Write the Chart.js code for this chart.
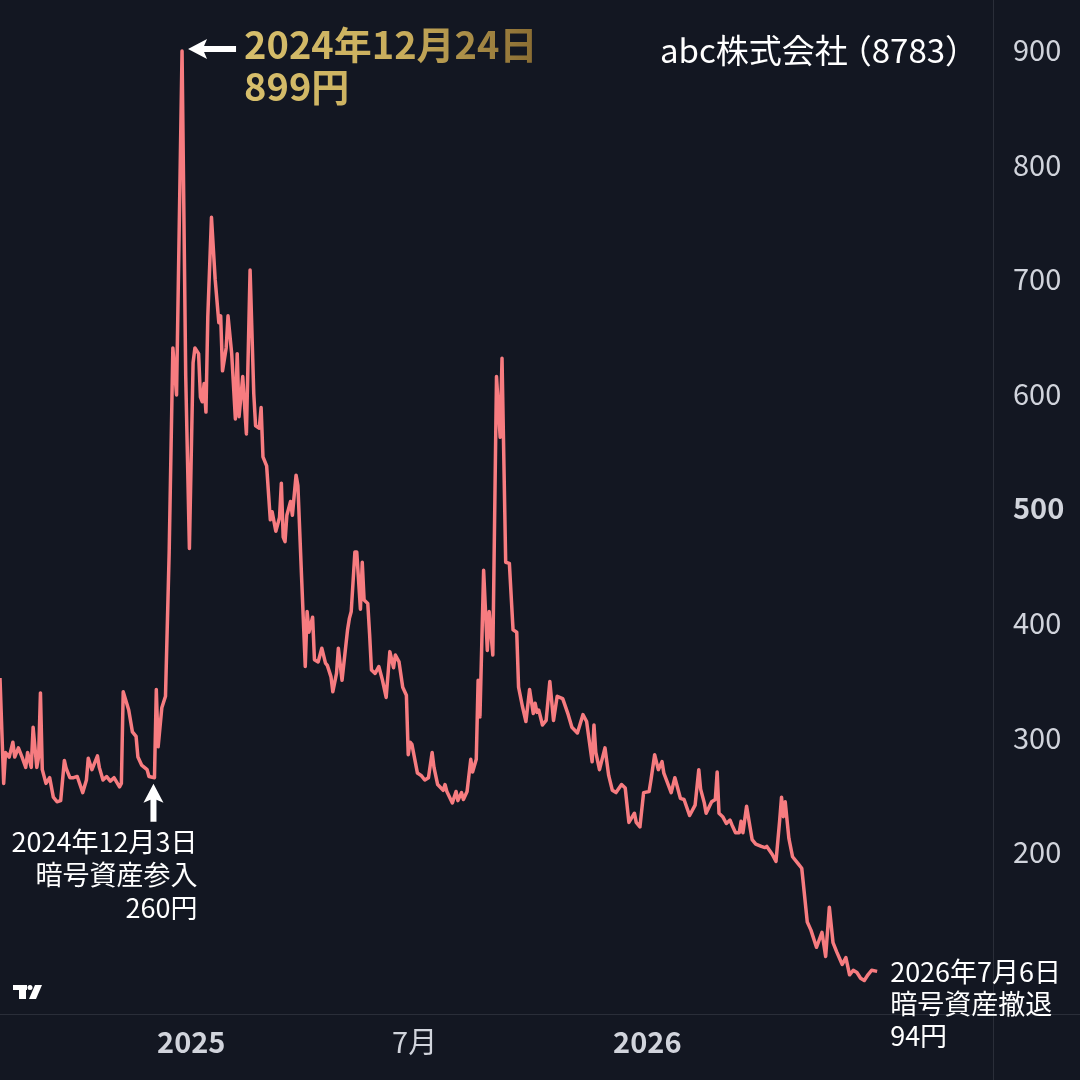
<!DOCTYPE html>
<html>
<head>
<meta charset="utf-8">
<script src="https://cdn.jsdelivr.net/npm/chart.js@4"></script>
<style>
  html, body { margin: 0; padding: 0; background: #131722; }
  #wrap { width: 1080px; height: 1080px; }
</style>
</head>
<body>
<div id="wrap"><canvas id="chart" width="1080" height="1080"></canvas></div>
<script>
// trading-day index (0 = left edge of the view) and closing price in yen
const bars = [
  0, 2, 3, 5, 7, 8, 10, 12, 14, 15,
  17, 18, 20, 21, 22, 23, 25, 27, 29, 31,
  33, 35, 36, 38, 40, 42, 45, 47, 48, 50,
  53, 54, 56, 58, 60, 62, 65, 66, 67, 70,
  72, 74, 75, 77, 80, 81, 84, 85, 86, 88,
  90, 92, 94, 96, 99, 101, 103, 105, 106, 108,
  109, 110, 111, 112, 113, 115, 117, 119, 120, 121,
  123, 124, 126, 128, 129, 130, 132, 134, 136, 138,
  139, 141, 142, 143, 145, 147, 148, 150, 152, 153,
  154, 155, 156, 158, 159, 161, 162, 164, 166, 167,
  168, 170, 171, 173, 175, 177, 178, 180, 181, 183,
  184, 186, 189, 190, 191, 193, 194, 196, 197, 198,
  200, 201, 202, 204, 206, 208, 210, 212, 214, 215,
  217, 219, 221, 222, 223, 224, 227, 229, 231, 233,
  235, 236, 238, 241, 242, 243, 246, 248, 249, 251,
  252, 254, 256, 257, 259, 260, 261, 263, 265, 266,
  268, 270, 272, 273, 275, 277, 279, 281, 282, 284,
  286, 288, 290, 291, 292, 293, 295, 297, 299, 301,
  303, 306, 309, 311, 314, 317, 319, 322, 323, 324,
  326, 329, 331, 333, 335, 338, 340, 342, 345, 346,
  348, 350, 353, 354, 356, 358, 360, 361, 365, 367,
  370, 372, 375, 378, 380, 381, 383, 384, 387, 389,
  390, 391, 393, 395, 397, 398, 400, 402, 403, 404,
  406, 409, 411, 414, 416, 417, 420, 422, 424, 425,
  426, 427, 429, 431, 434, 436, 439, 441, 444, 447,
  449, 451, 453, 455, 458, 460, 462, 464, 466, 468,
  470, 472, 474, 477
];
const prices = [
  352, 260, 287, 283, 296, 283, 291, 283, 274, 287,
  274, 309, 274, 283, 339, 272, 260, 265, 248, 244,
  245, 280, 273, 265, 265, 266, 252, 263, 282, 272,
  284, 274, 263, 266, 262, 265, 257, 260, 340, 324,
  305, 301, 283, 276, 272, 266, 265, 342, 292, 326,
  336, 462, 640, 599, 899, 615, 465, 627, 640, 635,
  597, 593, 609, 584, 667, 754, 700, 662, 668, 620,
  640, 668, 635, 578, 635, 580, 615, 565, 708, 600,
  572, 570, 588, 545, 537, 490, 497, 480, 492, 522,
  475, 471, 494, 506, 494, 529, 520, 440, 362, 410,
  392, 405, 368, 366, 378, 365, 363, 353, 340, 356,
  378, 350, 394, 404, 410, 462, 462, 412, 453, 420,
  417, 390, 359, 356, 362, 350, 335, 375, 361, 372,
  366, 344, 337, 285, 296, 294, 269, 267, 263, 265,
  287, 274, 259, 254, 259, 253, 243, 253, 245, 252,
  246, 253, 281, 270, 281, 350, 318, 446, 376, 410,
  372, 615, 562, 631, 453, 452, 394, 392, 344, 328,
  314, 342, 321, 330, 322, 324, 311, 315, 349, 315,
  336, 334, 320, 309, 304, 320, 314, 279, 311, 287,
  272, 291, 267, 254, 252, 259, 256, 226, 234, 226,
  222, 252, 253, 263, 285, 272, 279, 269, 252, 265,
  247, 246, 232, 241, 272, 255, 243, 234, 244, 246,
  270, 234, 231, 225, 228, 224, 217, 217, 227, 217,
  240, 211, 207, 205, 204, 205, 198, 192, 228, 248,
  231, 244, 212, 196, 190, 186, 139, 132, 117, 130,
  109, 152, 121, 113, 102, 108, 93, 97, 95, 90,
  88, 93, 97, 96
];

const xTickBars = [104, 225.5, 352];
const xTickLabels = ['2025', '7月', '2026'];
const xTickBold = [true, false, true];
const yTicks = [200, 300, 400, 500, 600, 700, 800, 900];

const titleName = 'abc株式会社';
const titleCode = '（8783）';
const peakBar = 99, peakPrice = 899;
const peakLines = ['2024年12月24日', '899円'];
const entryBar = 84, entryPrice = 265;
const entryLines = ['2024年12月3日', '暗号資産参入', '260円'];
const exitBar = 477, exitPrice = 96;
const exitLines = ['2026年7月6日', '暗号資産撤退', '94円'];

const BG = '#131722';
const LINE = '#f77c80';
const AXIS_TXT = '#d1d4dc';
const FONT = '"Noto Sans CJK JP", "Noto Sans", sans-serif';

function arrow(ctx, tx, ty, dir, len) {
  // dir: 'left' or 'up'; tip at (tx, ty)
  const head = 19, half = 10, shaft = 6;
  ctx.save();
  ctx.fillStyle = '#ffffff';
  ctx.beginPath();
  if (dir === 'left') {
    ctx.moveTo(tx, ty);
    ctx.lineTo(tx + head, ty - half);
    ctx.lineTo(tx + head - 3, ty - shaft / 2);
    ctx.lineTo(tx + len, ty - shaft / 2);
    ctx.lineTo(tx + len, ty + shaft / 2);
    ctx.lineTo(tx + head - 3, ty + shaft / 2);
    ctx.lineTo(tx + head, ty + half);
  } else {
    ctx.moveTo(tx, ty);
    ctx.lineTo(tx + half, ty + head);
    ctx.lineTo(tx + shaft / 2, ty + head - 3);
    ctx.lineTo(tx + shaft / 2, ty + len);
    ctx.lineTo(tx - shaft / 2, ty + len);
    ctx.lineTo(tx - shaft / 2, ty + head - 3);
    ctx.lineTo(tx - half, ty + head);
  }
  ctx.closePath();
  ctx.fill();
  ctx.restore();
}

const background = {
  id: 'background',
  beforeDraw(chart) {
    const ctx = chart.ctx;
    ctx.save();
    ctx.fillStyle = BG;
    ctx.fillRect(0, 0, chart.width, chart.height);
    ctx.restore();
  }
};

const annotations = {
  id: 'annotations',
  afterDraw(chart) {
    const ctx = chart.ctx;
    const x = chart.scales.x, y = chart.scales.y;
    const area = chart.chartArea;

    // axis separators
    ctx.save();
    ctx.strokeStyle = '#2a2e39';
    ctx.lineWidth = 1;
    ctx.beginPath();
    ctx.moveTo(area.right + 0.5, 0);
    ctx.lineTo(area.right + 0.5, chart.height);
    ctx.moveTo(0, area.bottom + 0.5);
    ctx.lineTo(chart.width, area.bottom + 0.5);
    ctx.stroke();
    ctx.restore();

    ctx.save();
    ctx.textBaseline = 'middle';

    // title
    ctx.fillStyle = '#ffffff';
    ctx.font = '33px ' + FONT;
    ctx.textAlign = 'left';
    ctx.fillText(titleName, 660, 50);
    ctx.fillText(titleCode, 660 + ctx.measureText(titleName).width - 9, 50);

    // peak
    const px = x.getPixelForValue(peakBar), py = y.getPixelForValue(peakPrice);
    arrow(ctx, px + 6, py - 2, 'left', 48);
    const gx = px + 62;
    const grad = ctx.createLinearGradient(gx, 0, gx + 290, 0);
    grad.addColorStop(0, '#d7bf6c');
    grad.addColorStop(0.55, '#c8ac5b');
    grad.addColorStop(1, '#8a6d33');
    ctx.fillStyle = grad;
    ctx.font = 'bold 38px ' + FONT;
    ctx.fillText(peakLines[0], gx, py - 7);
    ctx.fillText(peakLines[1], gx, py + 35);

    // entry
    const ex = x.getPixelForValue(entryBar), ey = y.getPixelForValue(entryPrice);
    arrow(ctx, ex - 1, ey + 6, 'up', 38);
    ctx.fillStyle = '#ffffff';
    ctx.font = '27px ' + FONT;
    ctx.textAlign = 'right';
    entryLines.forEach((t, i) => ctx.fillText(t, ex + 43, ey + 64 + i * 33));

    // exit
    const qx = x.getPixelForValue(exitBar), qy = y.getPixelForValue(exitPrice);
    ctx.textAlign = 'left';
    exitLines.forEach((t, i) => ctx.fillText(t, qx + 13, qy + i * 32));

    // logo
    ctx.fillStyle = '#ffffff';
    ctx.fillRect(13, 985, 14, 5);
    ctx.fillRect(19, 985, 7, 14);
    ctx.beginPath();
    ctx.arc(30, 987.5, 2.5, 0, Math.PI * 2);
    ctx.fill();
    ctx.beginPath();
    ctx.moveTo(35, 985);
    ctx.lineTo(42, 985);
    ctx.lineTo(36, 999);
    ctx.lineTo(29, 999);
    ctx.closePath();
    ctx.fill();
    ctx.restore();
  }
};

new Chart(document.getElementById('chart'), {
  type: 'line',
  data: {
    datasets: [{
      data: bars.map((b, i) => ({ x: b, y: prices[i] })),
      borderColor: LINE,
      borderWidth: 3.5,
      borderJoinStyle: 'round',
      pointRadius: 0,
      tension: 0,
      fill: false
    }]
  },
  options: {
    responsive: false,
    animation: false,
    devicePixelRatio: 1,
    layout: { padding: 0 },
    plugins: {
      legend: { display: false },
      tooltip: { enabled: false }
    },
    scales: {
      x: {
        type: 'linear',
        min: 0,
        max: 540,
        afterFit: (s) => { s.height = 66; s.paddingLeft = 0; s.paddingRight = 0; },
        afterBuildTicks: (s) => { s.ticks = xTickBars.map(v => ({ value: v })); },
        grid: { display: false, drawTicks: false },
        border: { display: false },
        ticks: {
          autoSkip: false,
          maxRotation: 0,
          padding: 11,
          color: AXIS_TXT,
          font: (c) => ({ family: FONT, size: 29, weight: xTickBold[xTickBars.indexOf(c.tick && c.tick.value)] ? 'bold' : 'normal' }),
          callback: (v) => xTickLabels[xTickBars.indexOf(v)]
        }
      },
      y: {
        position: 'right',
        min: 58.8,
        max: 943.6,
        afterFit: (s) => { s.width = 87; s.paddingTop = 0; s.paddingBottom = 0; },
        afterBuildTicks: (s) => { s.ticks = yTicks.map(v => ({ value: v })); },
        grid: { display: false, drawTicks: false },
        border: { display: false },
        ticks: {
          crossAlign: 'near',
          padding: 20,
          color: AXIS_TXT,
          font: (c) => ({ family: FONT, size: 29, weight: (c.tick && c.tick.value === 500) ? 'bold' : 'normal' }),
          callback: (v) => String(v)
        }
      }
    }
  },
  plugins: [background, annotations]
});
</script>
</body>
</html>
